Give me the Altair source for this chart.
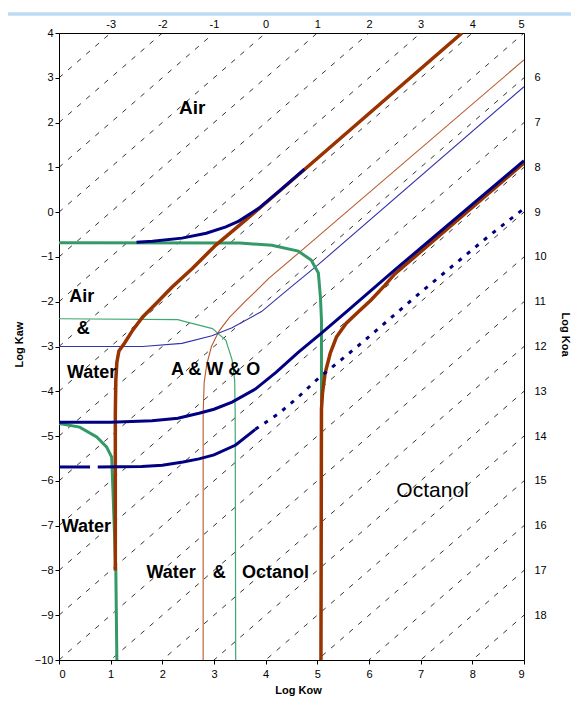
import altair as alt
import pandas as pd

# ---------------- data ----------------
koa_lines = list(range(-3, 19))          # diagonal iso-Koa dashed lines
top_koa = list(range(-3, 6))             # top axis labels (log Koa at log Kaw = 4)
right_koa = list(range(6, 19))           # right axis labels (log Koa at log Kow = 9)
x_ticks = list(range(0, 10))
y_ticks = list(range(-10, 5))

green_thin_x = [0, 2.3, 2.46, 2.97, 3.23, 3.35, 3.40, 3.41, 3.42]
green_thin_y = [-2.38, -2.40, -2.45, -2.60, -2.86, -3.30, -3.75, -4.5, -10]

brown_thin_x = [2.79, 2.79, 2.81, 2.86, 2.95, 3.10, 3.30, 3.60, 4.06, 4.63, 9.0]
brown_thin_y = [-10, -4.5, -3.8, -3.4, -3.0, -2.65, -2.35, -2.0, -1.48, -0.92, 3.4]

blue_thin_x = [0, 1.62, 2.38, 2.96, 3.35, 3.92, 4.44, 5.0, 9.0]
blue_thin_y = [-3.0, -3.0, -2.93, -2.76, -2.58, -2.22, -1.72, -1.19, 2.8]

green_top_x = [0, 3.5, 4.12, 4.63, 4.88, 5.02, 5.06, 5.08, 5.08]
green_top_y = [-0.685, -0.69, -0.74, -0.87, -1.07, -1.36, -1.9, -2.41, -4.27]

green_left_x = [0, 0.4, 0.73, 0.92, 1.02, 1.05, 1.10, 1.12]
green_left_y = [-4.72, -4.80, -5.02, -5.24, -5.47, -6.4, -8.0, -10]

brown_left_x = [1.09, 1.09, 1.10, 1.12, 1.16, 1.27, 1.43, 1.62, 1.88, 2.19, 2.58, 3.03, 3.61, 4.5, 7.8]
brown_left_y = [-8.0, -4.5, -3.75, -3.35, -3.1, -2.92, -2.63, -2.34, -2.04, -1.67, -1.26, -0.74, -0.18, 0.7, 4.0]

brown_right_x = [5.07, 5.08, 5.10, 5.15, 5.25, 5.37, 5.56, 5.79, 6.04, 6.31, 6.5, 9.0]
brown_right_y = [-10, -4.4, -4.04, -3.6, -3.15, -2.79, -2.48, -2.23, -1.96, -1.63, -1.38, 1.1]

blue_upper_x = [1.5, 1.81, 2.38, 2.85, 3.23, 3.48, 3.87, 4.25, 4.75]
blue_upper_y = [-0.67, -0.65, -0.58, -0.47, -0.33, -0.20, 0.09, 0.46, 0.96]

blue_lower_x = [0, 1.0, 1.8, 2.3, 2.71, 3.0, 3.35, 3.8, 4.2, 4.63, 5.08, 5.6, 6.5, 9.0]
blue_lower_y = [-4.69, -4.69, -4.66, -4.60, -4.49, -4.40, -4.24, -3.95, -3.58, -3.13, -2.70, -2.19, -1.29, 1.15]

blue_dot_a_x = [0, 0.6]
blue_dot_a_y = [-5.69, -5.69]
blue_dot_b_x = [0.75, 1.6, 2.0, 2.4, 2.71, 3.0, 3.42, 3.8]
blue_dot_b_y = [-5.69, -5.68, -5.65, -5.58, -5.51, -5.42, -5.20, -4.85]
blue_dot_c_x = [3.8, 4.25, 4.63, 5.02, 5.46, 5.92, 7.0, 8.29, 9.0]
blue_dot_c_y = [-4.85, -4.50, -4.13, -3.71, -3.30, -2.86, -1.79, -0.56, 0.08]

label_text = ["Air", "Air", "&", "Water", "A & W & O", "Water", "Water", "&", "Octanol", "Octanol"]
label_x = [2.58, 0.44, 0.47, 0.63, 3.03, 0.53, 2.17, 3.10, 4.19, 7.23]
label_y = [2.32, -1.90, -2.60, -3.60, -3.53, -7.04, -8.06, -8.06, -8.06, -6.22]
label_group = ["big", "mid", "mid", "mid", "mid", "mid", "mid", "mid", "mid", "oct"]

# ---------------- styles ----------------
NAVY = "#000080"
BROWN = "#993300"
GREEN = "#339966"
FONT = "Liberation Sans"

xs = alt.Scale(domain=[0, 9], nice=False, zero=False)
ys = alt.Scale(domain=[-10, 4], nice=False, zero=False)

common_axis = dict(labelFont=FONT, labelFontSize=11, labelColor="black",
                   domainColor="black", tickColor="black", grid=False,
                   titleFont=FONT, titleFontSize=11, titleFontWeight="bold",
                   titleColor="black")

bottom_axis = alt.Axis(orient="bottom", values=x_ticks, tickSize=4, labelPadding=4,
                       title="Log Kow", titleX=239, titleY=30, titleAngle=0,
                       titleBaseline="middle", titleAlign="center", **common_axis)
left_axis = alt.Axis(orient="left", values=y_ticks, tickSize=4, labelPadding=2,
                     title="Log Kaw", titleX=-40, titleY=311, titleAngle=270,
                     titleBaseline="middle", titleAlign="center", **common_axis)
top_axis = alt.Axis(orient="top", values=[k + 4 for k in top_koa], ticks=False,
                    labelPadding=4, labelExpr="datum.value - 4", title=None,
                    **common_axis)
right_axis = alt.Axis(orient="right", values=[9 - k for k in right_koa], ticks=False,
                      labelPadding=10, labelExpr="9 - datum.value",
                      title="Log Koa", titleX=40, titleY=301, titleAngle=90,
                      titleBaseline="middle", titleAlign="center", **common_axis)


def line_layer(xv, yv, color, width, dash=None, xaxis=None, yaxis=None):
    df = pd.DataFrame({"x": xv, "y": yv, "i": list(range(len(xv)))})
    kw = dict(color=color, strokeWidth=width, clip=True)
    if dash is not None:
        kw["strokeDash"] = dash
    return alt.Chart(df).mark_line(**kw).encode(
        x=alt.X("x:Q", scale=xs, axis=xaxis),
        y=alt.Y("y:Q", scale=ys, axis=yaxis),
        order="i:Q",
    )


# diagonal dashed lines of constant log Koa
rows = []
for k in koa_lines:
    rows.append({"koa": k, "x": 0, "y": 0 - k})
    rows.append({"koa": k, "x": 9, "y": 9 - k})
diag = alt.Chart(pd.DataFrame(rows)).mark_line(
    color="black", strokeWidth=0.8, strokeDash=[5, 7], clip=True
).encode(
    x=alt.X("x:Q", scale=xs, axis=bottom_axis),
    y=alt.Y("y:Q", scale=ys, axis=left_axis),
    detail="koa:N",
)

layers = [
    diag,
    line_layer(green_thin_x, green_thin_y, "#3fa872", 1.2, xaxis=top_axis, yaxis=right_axis),
    line_layer(brown_thin_x, brown_thin_y, "#b8592c", 1.1),
    line_layer(blue_thin_x, blue_thin_y, "#3333aa", 1.1),
    line_layer(green_top_x, green_top_y, GREEN, 3),
    line_layer(green_left_x, green_left_y, GREEN, 3),
    line_layer(brown_left_x, brown_left_y, BROWN, 3.5),
    line_layer(brown_right_x, brown_right_y, BROWN, 3.5),
    line_layer(blue_upper_x, blue_upper_y, NAVY, 3),
    line_layer(blue_lower_x, blue_lower_y, NAVY, 3),
    line_layer(blue_dot_a_x, blue_dot_a_y, NAVY, 3),
    line_layer(blue_dot_b_x, blue_dot_b_y, NAVY, 3),
    line_layer(blue_dot_c_x, blue_dot_c_y, NAVY, 3, dash=[4, 7]),
]

labels = pd.DataFrame({"text": label_text, "x": label_x, "y": label_y, "g": label_group})
text_styles = {
    "big": dict(fontSize=19, fontWeight="bold"),
    "mid": dict(fontSize=18, fontWeight="bold"),
    "oct": dict(fontSize=21, fontWeight="normal"),
}
for g, st in text_styles.items():
    layers.append(
        alt.Chart(labels).transform_filter(alt.datum.g == g).mark_text(
            font=FONT, color="black", align="center", baseline="middle", **st
        ).encode(
            x=alt.X("x:Q", scale=xs, axis=None),
            y=alt.Y("y:Q", scale=ys, axis=None),
            text="text:N",
        )
    )

# light blue band across the top of the page
band = alt.Chart(pd.DataFrame({"a": [0]})).mark_rule(
    color="#bcdcf5", strokeWidth=3.5
).encode(x=alt.value(-51), x2=alt.value(512), y=alt.value(-19))
layers.append(band)

chart = alt.layer(*layers).resolve_scale(
    x="independent", y="independent"
).properties(
    width=465, height=627,
    padding={"left": 51, "top": 25, "right": 47, "bottom": 38},
    autosize=alt.AutoSizeParams(type="none"),
).configure_view(stroke=None).configure(background="white")

chart.save("out.html", embed_options={"renderer": "svg", "actions": False})
